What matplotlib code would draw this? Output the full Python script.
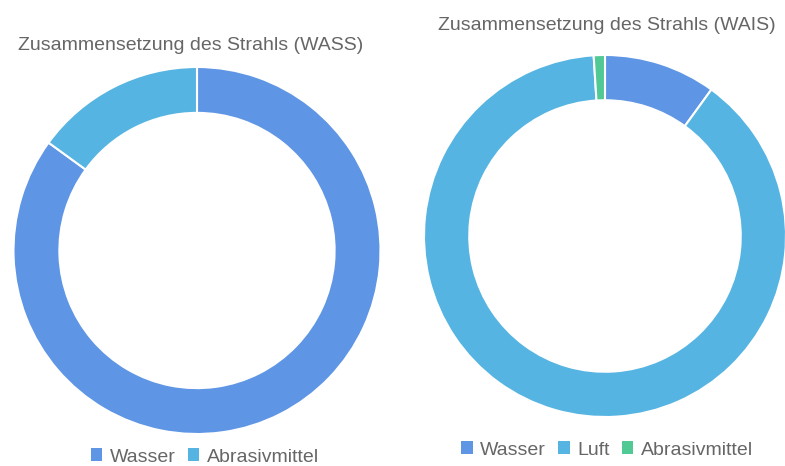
import matplotlib
matplotlib.use("Agg")
import matplotlib.pyplot as plt
from matplotlib.patches import Patch

plt.rcParams['font.family'] = ['Liberation Sans', 'DejaVu Sans']

# Data
wass_labels = ["Wasser", "Abrasivmittel"]
wass_values = [85, 15]
wais_labels = ["Wasser", "Luft", "Abrasivmittel"]
wais_values = [10, 89, 1]

title_wass = "Zusammensetzung des Strahls (WASS)"
title_wais = "Zusammensetzung des Strahls (WAIS)"

colors = {"Wasser": "#5e95e5", "Luft": "#56b4e2", "Abrasivmittel": "#56b4e2"}
wais_colors = ["#5e95e5", "#56b4e2", "#50c995"]
wass_colors = ["#5e95e5", "#56b4e2"]

W, H = 785, 466
fig = plt.figure(figsize=(W / 100, H / 100), dpi=100)

def add_donut(cx, cy, r, values, cols):
    ax = fig.add_axes([(cx - r) / W, (H - cy - r) / H, 2 * r / W, 2 * r / H])
    ax.pie(values, colors=cols, startangle=90, counterclock=False, radius=1.0,
           wedgeprops=dict(width=0.25, edgecolor="white", linewidth=1.5))
    ax.set_xlim(-1, 1)
    ax.set_ylim(-1, 1)
    ax.set_aspect("equal")
    ax.axis("off")
    return ax

add_donut(197, 250.5, 183.5, wass_values, wass_colors)
add_donut(605, 236, 181, wais_values, wais_colors)

txt_color = "#666666"
fig.text(191 / W, 1 - 46 / H, title_wass, ha="center", va="center", fontsize=14, color=txt_color)
fig.text(607 / W, 1 - 25 / H, title_wais, ha="center", va="center", fontsize=14, color=txt_color)

def add_legend(labels, cols, cx, cy):
    handles = [Patch(facecolor=c, edgecolor="none") for c in cols]
    fig.legend(handles, labels, loc="center", bbox_to_anchor=(cx / W, 1 - cy / H),
               ncol=len(labels), frameon=False, fontsize=14, labelcolor=txt_color,
               handlelength=0.6, handleheight=0.6, handletextpad=0.4, columnspacing=0.6,
               borderpad=0, borderaxespad=0)

add_legend(wass_labels, wass_colors, 205, 457)
add_legend(wais_labels, wais_colors, 607, 450)

fig.savefig("out.png", dpi=100)
